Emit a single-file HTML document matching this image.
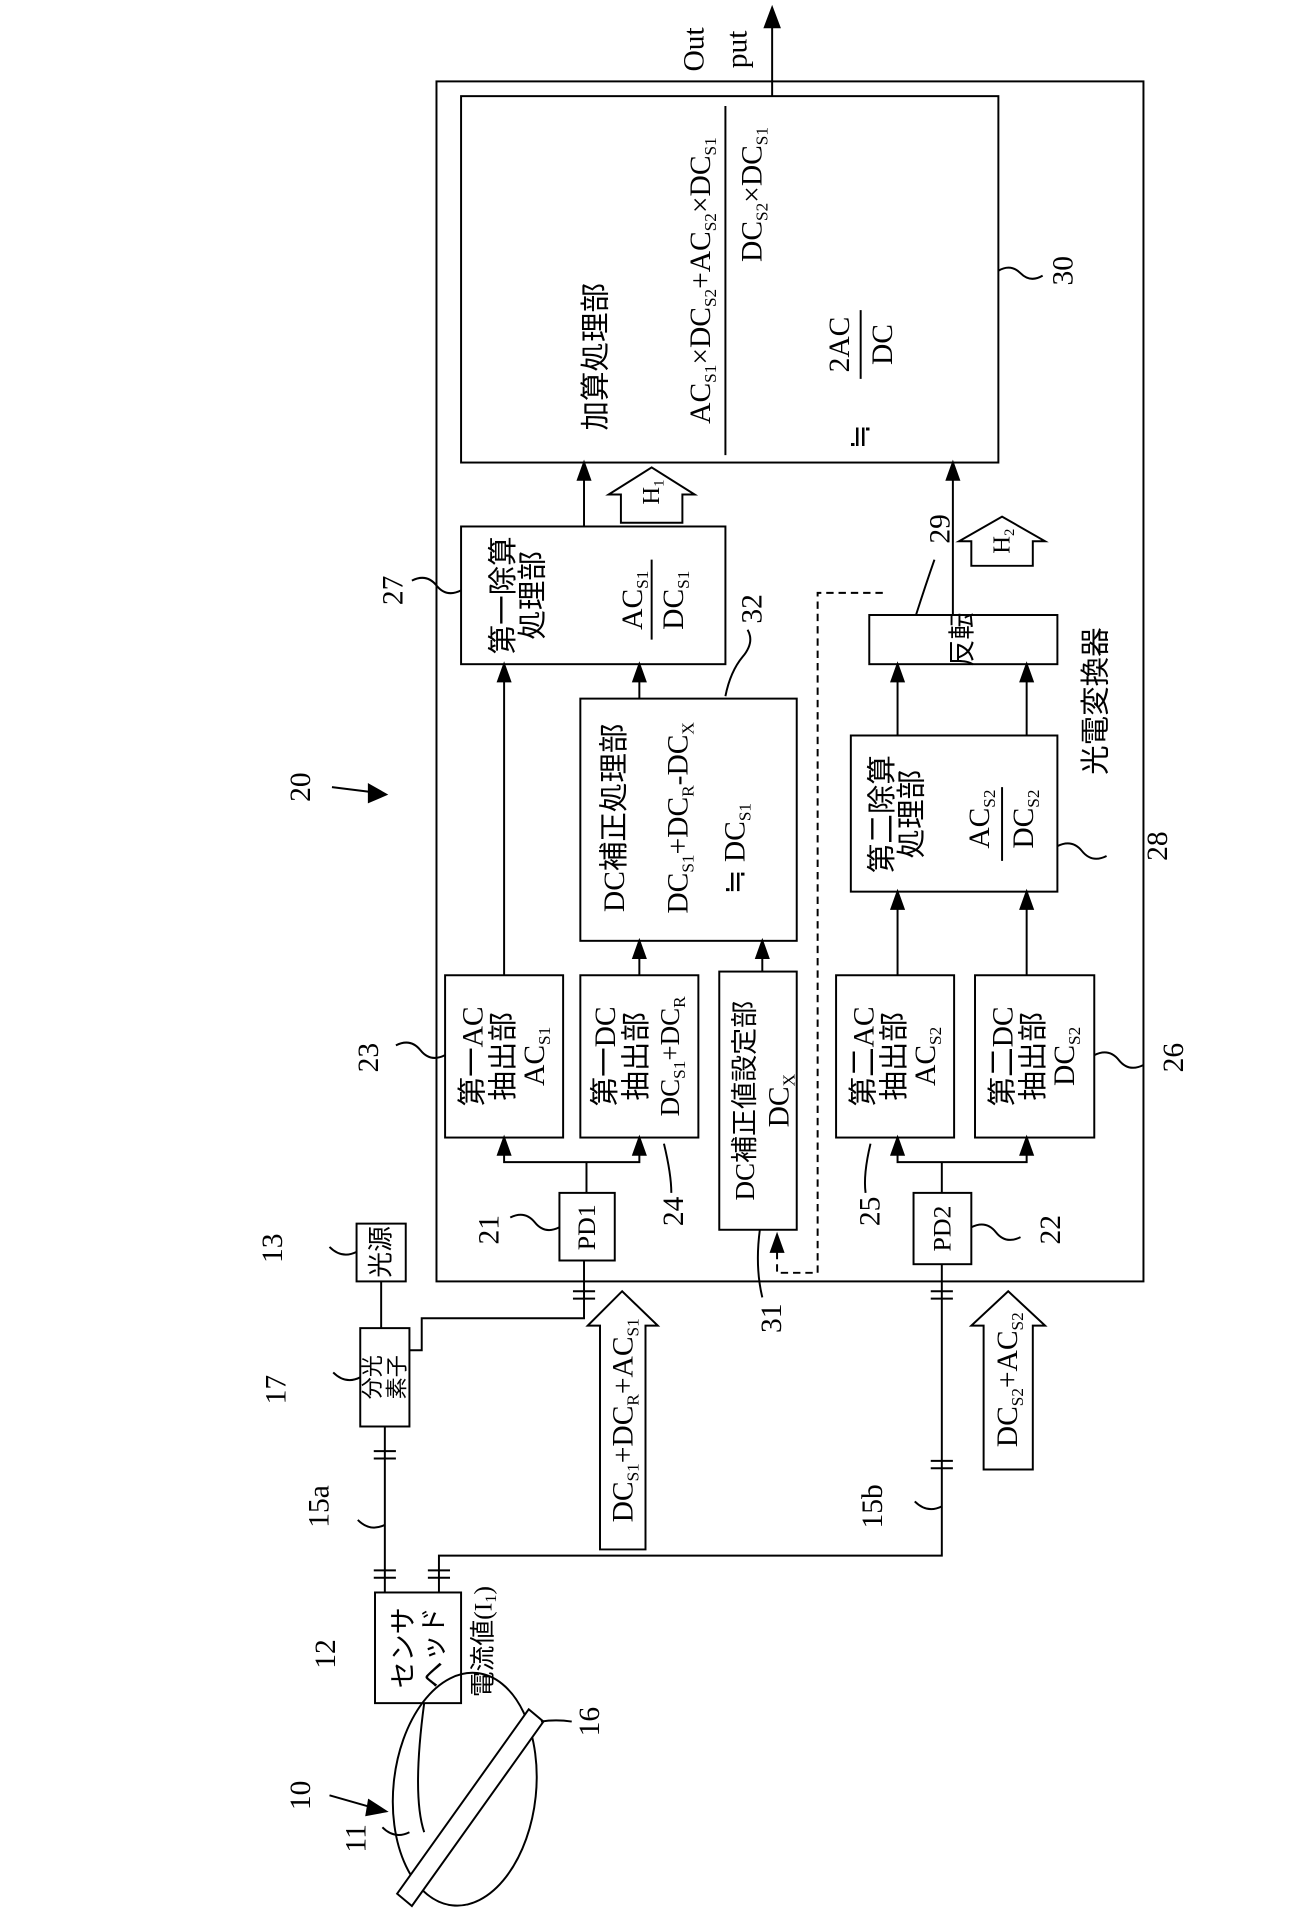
<!DOCTYPE html>
<html><head><meta charset="utf-8"><style>
html,body{margin:0;padding:0;background:#fff;}
svg{display:block;}
text{font-family:"Liberation Serif","Noto Serif CJK SC","Noto Sans CJK JP",serif;fill:#000;}
.j{font-family:"Liberation Serif","Noto Sans CJK JP",sans-serif;}
tspan.s{font-size:14px;}
</style></head><body>
<svg width="1291" height="1921" viewBox="0 0 1050 1562" xmlns="http://www.w3.org/2000/svg">
<g fill="none" stroke="#000" stroke-width="1.6">
<rect x="355" y="66" width="575" height="976"/>
<rect x="375" y="78" width="437" height="298"/>
<line x1="628" y1="78" x2="628" y2="14"/>
<path d="M622,22 L628,6 L634,22 Z" fill="#000"/>
<line x1="590" y1="86" x2="590" y2="370"/>
<line x1="700" y1="252" x2="700" y2="308"/>
<rect x="375" y="428" width="215" height="112"/>
<line x1="530" y1="455" x2="530" y2="520"/>
<rect x="472" y="568" width="176" height="197"/>
<rect x="362" y="793" width="96" height="132"/>
<rect x="472" y="793" width="96" height="132"/>
<rect x="585" y="790" width="63" height="210"/>
<rect x="680" y="793" width="96" height="132"/>
<rect x="793" y="793" width="97" height="132"/>
<rect x="455" y="970" width="45" height="55"/>
<rect x="743" y="970" width="47" height="58"/>
<rect x="692" y="598" width="168" height="127"/>
<line x1="815" y1="640" x2="815" y2="700"/>
<rect x="707" y="500" width="153" height="40"/>
<line x1="475" y1="428" x2="475" y2="386"/><path d="M470,390 L475,376 L480,390Z" fill="#000"/>
<line x1="520" y1="568" x2="520" y2="550"/><path d="M515,554 L520,540 L525,554Z" fill="#000"/>
<line x1="410" y1="793" x2="410" y2="550"/><path d="M405,554 L410,540 L415,554Z" fill="#000"/>
<line x1="520" y1="793" x2="520" y2="775"/><path d="M515,779 L520,765 L525,779Z" fill="#000"/>
<line x1="620" y1="790" x2="620" y2="775"/><path d="M615,779 L620,765 L625,779Z" fill="#000"/>
<line x1="730" y1="793" x2="730" y2="735"/><path d="M725,739 L730,725 L735,739Z" fill="#000"/>
<line x1="835" y1="793" x2="835" y2="735"/><path d="M830,739 L835,725 L840,739Z" fill="#000"/>
<line x1="730" y1="598" x2="730" y2="550"/><path d="M725,554 L730,540 L735,554Z" fill="#000"/>
<line x1="835" y1="598" x2="835" y2="550"/><path d="M830,554 L835,540 L840,554Z" fill="#000"/>
<line x1="775" y1="500" x2="775" y2="386"/><path d="M770,390 L775,376 L780,390Z" fill="#000"/>
<path d="M477,970 V945 H410 V935 M477,945 H520 V935"/>
<path d="M405,939 L410,925 L415,939Z M515,939 L520,925 L525,939Z" fill="#000"/>
<path d="M766,970 V945 H730 V935 M766,945 H835 V935"/>
<path d="M725,939 L730,925 L735,939Z M830,939 L835,925 L840,939Z" fill="#000"/>
<path d="M718,482 H665 V1035 H632 V1015" stroke-dasharray="6,4"/>
<path d="M627,1018 L632,1004 L637,1018Z" fill="#000"/>
<path d="M505,425 V402 H495 L530,380 L565,402 H555 V425 Z"/>
<path d="M790,460 V440 H780 L815,420 L850,440 H840 V460 Z"/>
<!-- tildes -->
<path d="M812,220 q10,-6 18,2 t18,2"/>
<path d="M375,480 q-12,6 -20,-4 t-20,-4"/>
<path d="M590,566 q4,-20 14,-32 t4,-22"/>
<path d="M362,858 q-12,6 -20,-4 t-20,-4"/>
<path d="M540,930 q6,25 6,40"/>
<path d="M618,1000 q-4,30 2,55"/>
<path d="M708,930 q-6,25 -4,40"/>
<path d="M890,858 q12,-6 20,4 t20,4"/>
<path d="M860,688 q12,-6 20,4 t20,4"/>
<path d="M745,500 q8,-25 15,-45"/>
<path d="M455,998 q-12,6 -20,-4 t-20,-4"/>
<path d="M790,998 q12,-6 20,4 t20,4"/>
<!-- external -->
<rect x="290" y="995" width="40" height="47"/>
<rect x="293" y="1080" width="40" height="80"/>
<line x1="310" y1="1042" x2="310" y2="1080"/>
<path d="M333,1098 H343 V1072 H475 V1025"/>
<line x1="466" y1="1050" x2="484" y2="1050"/><line x1="466" y1="1056" x2="484" y2="1056"/>
<path d="M313,1160 V1295"/>
<line x1="304" y1="1180" x2="322" y2="1180"/><line x1="304" y1="1186" x2="322" y2="1186"/>
<line x1="304" y1="1277" x2="322" y2="1277"/><line x1="304" y1="1283" x2="322" y2="1283"/>
<rect x="305" y="1295" width="70" height="90"/>
<path d="M357,1295 V1265 H766 V1028"/>
<line x1="348" y1="1277" x2="366" y2="1277"/><line x1="348" y1="1283" x2="366" y2="1283"/>
<line x1="757" y1="1188" x2="775" y2="1188"/><line x1="757" y1="1194" x2="775" y2="1194"/>
<line x1="757" y1="1050" x2="775" y2="1050"/><line x1="757" y1="1056" x2="775" y2="1056"/>
<path d="M488,1260 V1078 H478 L506,1050 L535,1078 H525 V1260 Z"/>
<path d="M800,1195 V1078 H790 L820,1050 L850,1078 H840 V1195 Z"/>
<ellipse cx="378" cy="1455" rx="58" ry="95" transform="rotate(6 378 1455)"/>
<path d="M345,1385 Q335,1460 345,1490"/>
<path d="M430,1390 L442,1400 L335,1550 L323,1540 Z" fill="#fff"/>
<path d="M440,1400 q12,-2 25,0"/>
<path d="M333,1490 q-12,6 -22,-4"/>
<line x1="268" y1="1460" x2="310" y2="1472"/><path d="M300,1464 L314,1473 L298,1476Z" fill="#000"/>
<line x1="270" y1="640" x2="310" y2="645"/><path d="M300,638 L314,646 L300,652Z" fill="#000"/>
<path d="M290,1018 q-12,6 -22,-4"/><path d="M293,1120 q-12,6 -22,-4"/>
<path d="M313,1240 q-12,6 -22,-4"/><path d="M766,1225 q-12,6 -22,-4"/>
</g>
<g font-size="24" text-anchor="middle" dominant-baseline="central">
<text transform="translate(565,40) rotate(-90)">Out</text>
<text transform="translate(600,40) rotate(-90)">put</text>
<text class="j" transform="translate(485,290) rotate(-90)">加算処理部</text>
<text transform="translate(570,228) rotate(-90)">AC<tspan class="s" baseline-shift="sub">S1</tspan>×DC<tspan class="s" baseline-shift="sub">S2</tspan>+AC<tspan class="s" baseline-shift="sub">S2</tspan>×DC<tspan class="s" baseline-shift="sub">S1</tspan></text>
<text transform="translate(612,158) rotate(-90)">DC<tspan class="s" baseline-shift="sub">S2</tspan>×DC<tspan class="s" baseline-shift="sub">S1</tspan></text>
<text transform="translate(683,280) rotate(-90)">2AC</text>
<text transform="translate(718,280) rotate(-90)">DC</text>
<text transform="translate(700,355) rotate(-90)">≒</text>
<text transform="translate(865,220) rotate(-90)">30</text>
<text class="j" transform="translate(410,484) rotate(-90)">第一除算</text>
<text class="j" transform="translate(434,484) rotate(-90)">処理部</text>
<text transform="translate(515,488) rotate(-90)">AC<tspan class="s" baseline-shift="sub">S1</tspan></text>
<text transform="translate(548,488) rotate(-90)">DC<tspan class="s" baseline-shift="sub">S1</tspan></text>
<text transform="translate(320,480) rotate(-90)">27</text>
<text transform="translate(530,400) rotate(-90)" font-size="20">H<tspan font-size="12" baseline-shift="sub">1</tspan></text>
<text transform="translate(815,440) rotate(-90)" font-size="20">H<tspan font-size="12" baseline-shift="sub">2</tspan></text>
<text class="j" transform="translate(500,665) rotate(-90)">DC補正処理部</text>
<text transform="translate(552,665) rotate(-90)">DC<tspan class="s" baseline-shift="sub">S1</tspan>+DC<tspan class="s" baseline-shift="sub">R</tspan>-DC<tspan class="s" baseline-shift="sub">X</tspan></text>
<text transform="translate(598,690) rotate(-90)">≒ DC<tspan class="s" baseline-shift="sub">S1</tspan></text>
<text transform="translate(612,495) rotate(-90)">32</text>
<text class="j" transform="translate(385,859) rotate(-90)">第一AC</text>
<text class="j" transform="translate(410,859) rotate(-90)">抽出部</text>
<text transform="translate(435,859) rotate(-90)">AC<tspan class="s" baseline-shift="sub">S1</tspan></text>
<text transform="translate(300,860) rotate(-90)">23</text>
<text class="j" transform="translate(493,859) rotate(-90)">第一DC</text>
<text class="j" transform="translate(518,859) rotate(-90)">抽出部</text>
<text transform="translate(545,859) rotate(-90)" font-size="22">DC<tspan class="s" baseline-shift="sub">S1</tspan>+DC<tspan class="s" baseline-shift="sub">R</tspan></text>
<text transform="translate(548,985) rotate(-90)">24</text>
<text class="j" transform="translate(606,895) rotate(-90)" font-size="22">DC補正値設定部</text>
<text transform="translate(634,895) rotate(-90)">DC<tspan class="s" baseline-shift="sub">X</tspan></text>
<text transform="translate(628,1072) rotate(-90)">31</text>
<text class="j" transform="translate(703,859) rotate(-90)">第二AC</text>
<text class="j" transform="translate(728,859) rotate(-90)">抽出部</text>
<text transform="translate(753,859) rotate(-90)">AC<tspan class="s" baseline-shift="sub">S2</tspan></text>
<text transform="translate(708,985) rotate(-90)">25</text>
<text class="j" transform="translate(816,859) rotate(-90)">第二DC</text>
<text class="j" transform="translate(841,859) rotate(-90)">抽出部</text>
<text transform="translate(866,859) rotate(-90)">DC<tspan class="s" baseline-shift="sub">S2</tspan></text>
<text transform="translate(955,860) rotate(-90)">26</text>
<text transform="translate(477,998) rotate(-90)" font-size="21">PD1</text>
<text transform="translate(766,999) rotate(-90)" font-size="21">PD2</text>
<text transform="translate(398,1000) rotate(-90)">21</text>
<text transform="translate(855,1000) rotate(-90)">22</text>
<text class="j" transform="translate(718,662) rotate(-90)">第二除算</text>
<text class="j" transform="translate(742,662) rotate(-90)">処理部</text>
<text transform="translate(797,666) rotate(-90)">AC<tspan class="s" baseline-shift="sub">S2</tspan></text>
<text transform="translate(833,666) rotate(-90)">DC<tspan class="s" baseline-shift="sub">S2</tspan></text>
<text transform="translate(942,688) rotate(-90)">28</text>
<text class="j" transform="translate(783,520) rotate(-90)" font-size="22">反転</text>
<text transform="translate(765,430) rotate(-90)">29</text>
<text class="j" transform="translate(892,570) rotate(-90)">光電変換器</text>
<text transform="translate(245,640) rotate(-90)">20</text>
<text class="j" transform="translate(310,1018) rotate(-90)" font-size="21">光源</text>
<text transform="translate(222,1015) rotate(-90)">13</text>
<text class="j" transform="translate(303,1120) rotate(-90)" font-size="18">分光</text>
<text class="j" transform="translate(323,1120) rotate(-90)" font-size="18">素子</text>
<text transform="translate(225,1130) rotate(-90)">17</text>
<text transform="translate(260,1225) rotate(-90)">15a</text>
<text transform="translate(710,1225) rotate(-90)">15b</text>
<text transform="translate(507,1155) rotate(-90)">DC<tspan class="s" baseline-shift="sub">S1</tspan>+DC<tspan class="s" baseline-shift="sub">R</tspan>+AC<tspan class="s" baseline-shift="sub">S1</tspan></text>
<text transform="translate(820,1122) rotate(-90)">DC<tspan class="s" baseline-shift="sub">S2</tspan>+AC<tspan class="s" baseline-shift="sub">S2</tspan></text>
<text class="j" transform="translate(328,1340) rotate(-90)" font-size="22">センサ</text>
<text class="j" transform="translate(353,1340) rotate(-90)" font-size="22">ヘッド</text>
<text transform="translate(265,1345) rotate(-90)">12</text>
<text class="j" transform="translate(393,1335) rotate(-90)" font-size="21">電流値(I<tspan font-size="13" baseline-shift="sub">1</tspan>)</text>
<text transform="translate(480,1400) rotate(-90)">16</text>
<text transform="translate(290,1495) rotate(-90)">11</text>
<text transform="translate(245,1460) rotate(-90)">10</text>
</g>
</svg>
</body></html>
